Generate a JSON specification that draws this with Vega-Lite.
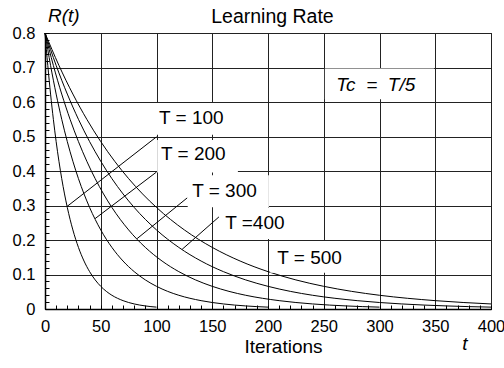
{
  "$schema": "https://vega.github.io/schema/vega-lite/v6.json",
  "width": 446,
  "height": 276,
  "autosize": {"type": "none"},
  "padding": {"left": 45, "top": 33, "right": 13, "bottom": 59},
  "background": "white",
  "config": {"view": {"stroke": "#000", "strokeWidth": 1}, "font": "Liberation Sans"},
  "datasets": {
    "curves": [
      {"T":100,"t":0,"R":0.8},{"T":100,"t":2.5,"R":0.706},{"T":100,"t":5,"R":0.623},{"T":100,"t":7.5,"R":0.5498},{"T":100,"t":10,"R":0.4852},{"T":100,"t":12.5,"R":0.4282},{"T":100,"t":15,"R":0.3779},{"T":100,"t":17.5,"R":0.3335},{"T":100,"t":20,"R":0.2943},{"T":100,"t":25,"R":0.2292},{"T":100,"t":30,"R":0.1785},{"T":100,"t":35,"R":0.139},{"T":100,"t":40,"R":0.1083},{"T":100,"t":45,"R":0.0843},{"T":100,"t":50,"R":0.0657},{"T":100,"t":55,"R":0.0511},{"T":100,"t":60,"R":0.0398},{"T":100,"t":70,"R":0.0242},{"T":100,"t":80,"R":0.01465},{"T":100,"t":90,"R":0.00889},{"T":100,"t":100,"R":0.00539},
      {"T":200,"t":0,"R":0.8},{"T":200,"t":5,"R":0.706},{"T":200,"t":10,"R":0.623},{"T":200,"t":15,"R":0.5498},{"T":200,"t":20,"R":0.4852},{"T":200,"t":25,"R":0.4282},{"T":200,"t":30,"R":0.3779},{"T":200,"t":35,"R":0.3335},{"T":200,"t":40,"R":0.2943},{"T":200,"t":50,"R":0.2292},{"T":200,"t":60,"R":0.1785},{"T":200,"t":70,"R":0.139},{"T":200,"t":80,"R":0.1083},{"T":200,"t":90,"R":0.0843},{"T":200,"t":100,"R":0.0657},{"T":200,"t":110,"R":0.0511},{"T":200,"t":120,"R":0.0398},{"T":200,"t":140,"R":0.0242},{"T":200,"t":160,"R":0.01465},{"T":200,"t":180,"R":0.00889},{"T":200,"t":200,"R":0.00539},
      {"T":300,"t":0,"R":0.8},{"T":300,"t":7.5,"R":0.706},{"T":300,"t":15,"R":0.623},{"T":300,"t":22.5,"R":0.5498},{"T":300,"t":30,"R":0.4852},{"T":300,"t":37.5,"R":0.4282},{"T":300,"t":45,"R":0.3779},{"T":300,"t":52.5,"R":0.3335},{"T":300,"t":60,"R":0.2943},{"T":300,"t":75,"R":0.2292},{"T":300,"t":90,"R":0.1785},{"T":300,"t":105,"R":0.139},{"T":300,"t":120,"R":0.1083},{"T":300,"t":135,"R":0.0843},{"T":300,"t":150,"R":0.0657},{"T":300,"t":165,"R":0.0511},{"T":300,"t":180,"R":0.0398},{"T":300,"t":210,"R":0.0242},{"T":300,"t":240,"R":0.01465},{"T":300,"t":270,"R":0.00889},{"T":300,"t":300,"R":0.00539},
      {"T":400,"t":0,"R":0.8},{"T":400,"t":10,"R":0.706},{"T":400,"t":20,"R":0.623},{"T":400,"t":30,"R":0.5498},{"T":400,"t":40,"R":0.4852},{"T":400,"t":50,"R":0.4282},{"T":400,"t":60,"R":0.3779},{"T":400,"t":70,"R":0.3335},{"T":400,"t":80,"R":0.2943},{"T":400,"t":100,"R":0.2292},{"T":400,"t":120,"R":0.1785},{"T":400,"t":140,"R":0.139},{"T":400,"t":160,"R":0.1083},{"T":400,"t":180,"R":0.0843},{"T":400,"t":200,"R":0.0657},{"T":400,"t":220,"R":0.0511},{"T":400,"t":240,"R":0.0398},{"T":400,"t":280,"R":0.0242},{"T":400,"t":320,"R":0.01465},{"T":400,"t":360,"R":0.00889},{"T":400,"t":400,"R":0.00539},
      {"T":500,"t":0,"R":0.8},{"T":500,"t":12.5,"R":0.706},{"T":500,"t":25,"R":0.623},{"T":500,"t":37.5,"R":0.5498},{"T":500,"t":50,"R":0.4852},{"T":500,"t":62.5,"R":0.4282},{"T":500,"t":75,"R":0.3779},{"T":500,"t":87.5,"R":0.3335},{"T":500,"t":100,"R":0.2943},{"T":500,"t":125,"R":0.2292},{"T":500,"t":150,"R":0.1785},{"T":500,"t":175,"R":0.139},{"T":500,"t":200,"R":0.1083},{"T":500,"t":225,"R":0.0843},{"T":500,"t":250,"R":0.0657},{"T":500,"t":275,"R":0.0511},{"T":500,"t":300,"R":0.0398},{"T":500,"t":350,"R":0.0242},{"T":500,"t":400,"R":0.01465}
    ],
    "boxes": [
      {"x1":90,"x2":172,"y1":0.505,"y2":0.597},
      {"x1":100.6,"x2":173,"y1":0.396,"y2":0.49},
      {"x1":128,"x2":200.8,"y1":0.295,"y2":0.388},
      {"x1":151,"x2":229,"y1":0.203,"y2":0.294},
      {"x1":202,"x2":270,"y1":0.105,"y2":0.197},
      {"x1":251,"x2":349,"y1":0.608,"y2":0.697}
    ],
    "leaders": [
      {"x1":100,"y1":0.499,"x2":19.7,"y2":0.297},
      {"x1":100,"y1":0.397,"x2":44.9,"y2":0.262},
      {"x1":127.5,"y1":0.322,"x2":82.6,"y2":0.204},
      {"x1":156,"y1":0.267,"x2":123,"y2":0.173}
    ],
    "labels": [
      {"x":102.3,"y":0.536,"label":"T = 100"},
      {"x":104.1,"y":0.432,"label":"T = 200"},
      {"x":132,"y":0.325,"label":"T = 300"},
      {"x":161.6,"y":0.232,"label":"T =400"},
      {"x":208.3,"y":0.13,"label":"T = 500"}
    ],
    "italic": [
      {"x":261.2,"y":0.632,"label":"Tc \u00a0=\u00a0 T/5"},
      {"x":374.3,"y":-0.119,"label":"t"},
      {"x":2.7,"y":0.832,"label":"R(t)"}
    ],
    "heading": [
      {"x":204,"y":0.829,"label":"Learning Rate"}
    ]
  },
  "layer": [
    {
      "data": {"name": "curves"},
      "mark": {"type": "line", "color": "#000", "strokeWidth": 1, "interpolate": "monotone"},
      "encoding": {
        "x": {
          "field": "t", "type": "quantitative",
          "scale": {"domain": [0, 400], "nice": false, "zero": false},
          "axis": {
            "values": [0,10,20,30,40,50,60,70,80,90,100,110,120,130,140,150,160,170,180,190,200,210,220,230,240,250,260,270,280,290,300,310,320,330,340,350,360,370,380,390,400],
            "tickCount": 100,
            "labelExpr": "datum.value % 50 === 0 ? format(datum.value, 'd') : ''",
            "grid": true,
            "gridColor": "#222",
            "gridWidth": 1,
            "gridOpacity": {"condition": {"test": "datum.value % 50 === 0", "value": 1}, "value": 0},
            "tickSize": -4,
            "tickColor": "#000",
            "domainColor": "#000",
            "domainWidth": 1.5,
            "labelFont": "Liberation Sans",
            "labelFontSize": 16.5,
            "labelColor": "#000",
            "labelBaseline": "alphabetic",
            "labelPadding": 26,
            "labelFlush": false,
            "labelOverlap": false,
            "title": "Iterations",
            "titleFont": "Liberation Sans",
            "titleFontSize": 19,
            "titleFontWeight": "normal",
            "titleColor": "#000",
            "titleX": 238,
            "titleY": 43,
            "titleBaseline": "alphabetic"
          }
        },
        "y": {
          "field": "R", "type": "quantitative",
          "scale": {"domain": [0, 0.8], "nice": false},
          "axis": {
            "values": [0,0.02,0.04,0.06,0.08,0.1,0.12,0.14,0.16,0.18,0.2,0.22,0.24,0.26,0.28,0.3,0.32,0.34,0.36,0.38,0.4,0.42,0.44,0.46,0.48,0.5,0.52,0.54,0.56,0.58,0.6,0.62,0.64,0.66,0.68,0.7,0.72,0.74,0.76,0.78,0.8],
            "tickCount": 100,
            "labelExpr": "datum.value === 0 ? '0' : (round(datum.value*100) % 10 === 0 ? format(datum.value, '.1f') : '')",
            "grid": true,
            "gridColor": "#222",
            "gridWidth": 1,
            "gridOpacity": {"condition": {"test": "round(datum.value*100) % 10 === 0", "value": 1}, "value": 0},
            "tickSize": -4,
            "tickColor": "#000",
            "domainColor": "#000",
            "domainWidth": 1.5,
            "labelFont": "Liberation Sans",
            "labelFontSize": 16.5,
            "labelColor": "#000",
            "labelPadding": 14,
            "labelFlush": false,
            "labelOverlap": false,
            "title": null
          }
        },
        "detail": {"field": "T", "type": "nominal"}
      }
    },
    {
      "data": {"name": "boxes"},
      "mark": {"type": "rect", "fill": "white", "stroke": null},
      "encoding": {
        "x": {"field": "x1", "type": "quantitative"},
        "x2": {"field": "x2"},
        "y": {"field": "y1", "type": "quantitative"},
        "y2": {"field": "y2"}
      }
    },
    {
      "data": {"name": "leaders"},
      "mark": {"type": "rule", "color": "#000", "strokeWidth": 1},
      "encoding": {
        "x": {"field": "x1", "type": "quantitative"},
        "x2": {"field": "x2"},
        "y": {"field": "y1", "type": "quantitative"},
        "y2": {"field": "y2"}
      }
    },
    {
      "data": {"name": "labels"},
      "mark": {"type": "text", "align": "left", "baseline": "alphabetic", "font": "Liberation Sans", "fontSize": 19, "color": "#000"},
      "encoding": {
        "x": {"field": "x", "type": "quantitative"},
        "y": {"field": "y", "type": "quantitative"},
        "text": {"field": "label"}
      }
    },
    {
      "data": {"name": "italic"},
      "mark": {"type": "text", "align": "left", "baseline": "alphabetic", "font": "Liberation Sans", "fontSize": 19, "fontStyle": "italic", "color": "#000"},
      "encoding": {
        "x": {"field": "x", "type": "quantitative"},
        "y": {"field": "y", "type": "quantitative"},
        "text": {"field": "label"}
      }
    },
    {
      "data": {"name": "heading"},
      "mark": {"type": "text", "align": "center", "baseline": "alphabetic", "font": "Liberation Sans", "fontSize": 19.5, "color": "#000"},
      "encoding": {
        "x": {"field": "x", "type": "quantitative"},
        "y": {"field": "y", "type": "quantitative"},
        "text": {"field": "label"}
      }
    }
  ]
}
